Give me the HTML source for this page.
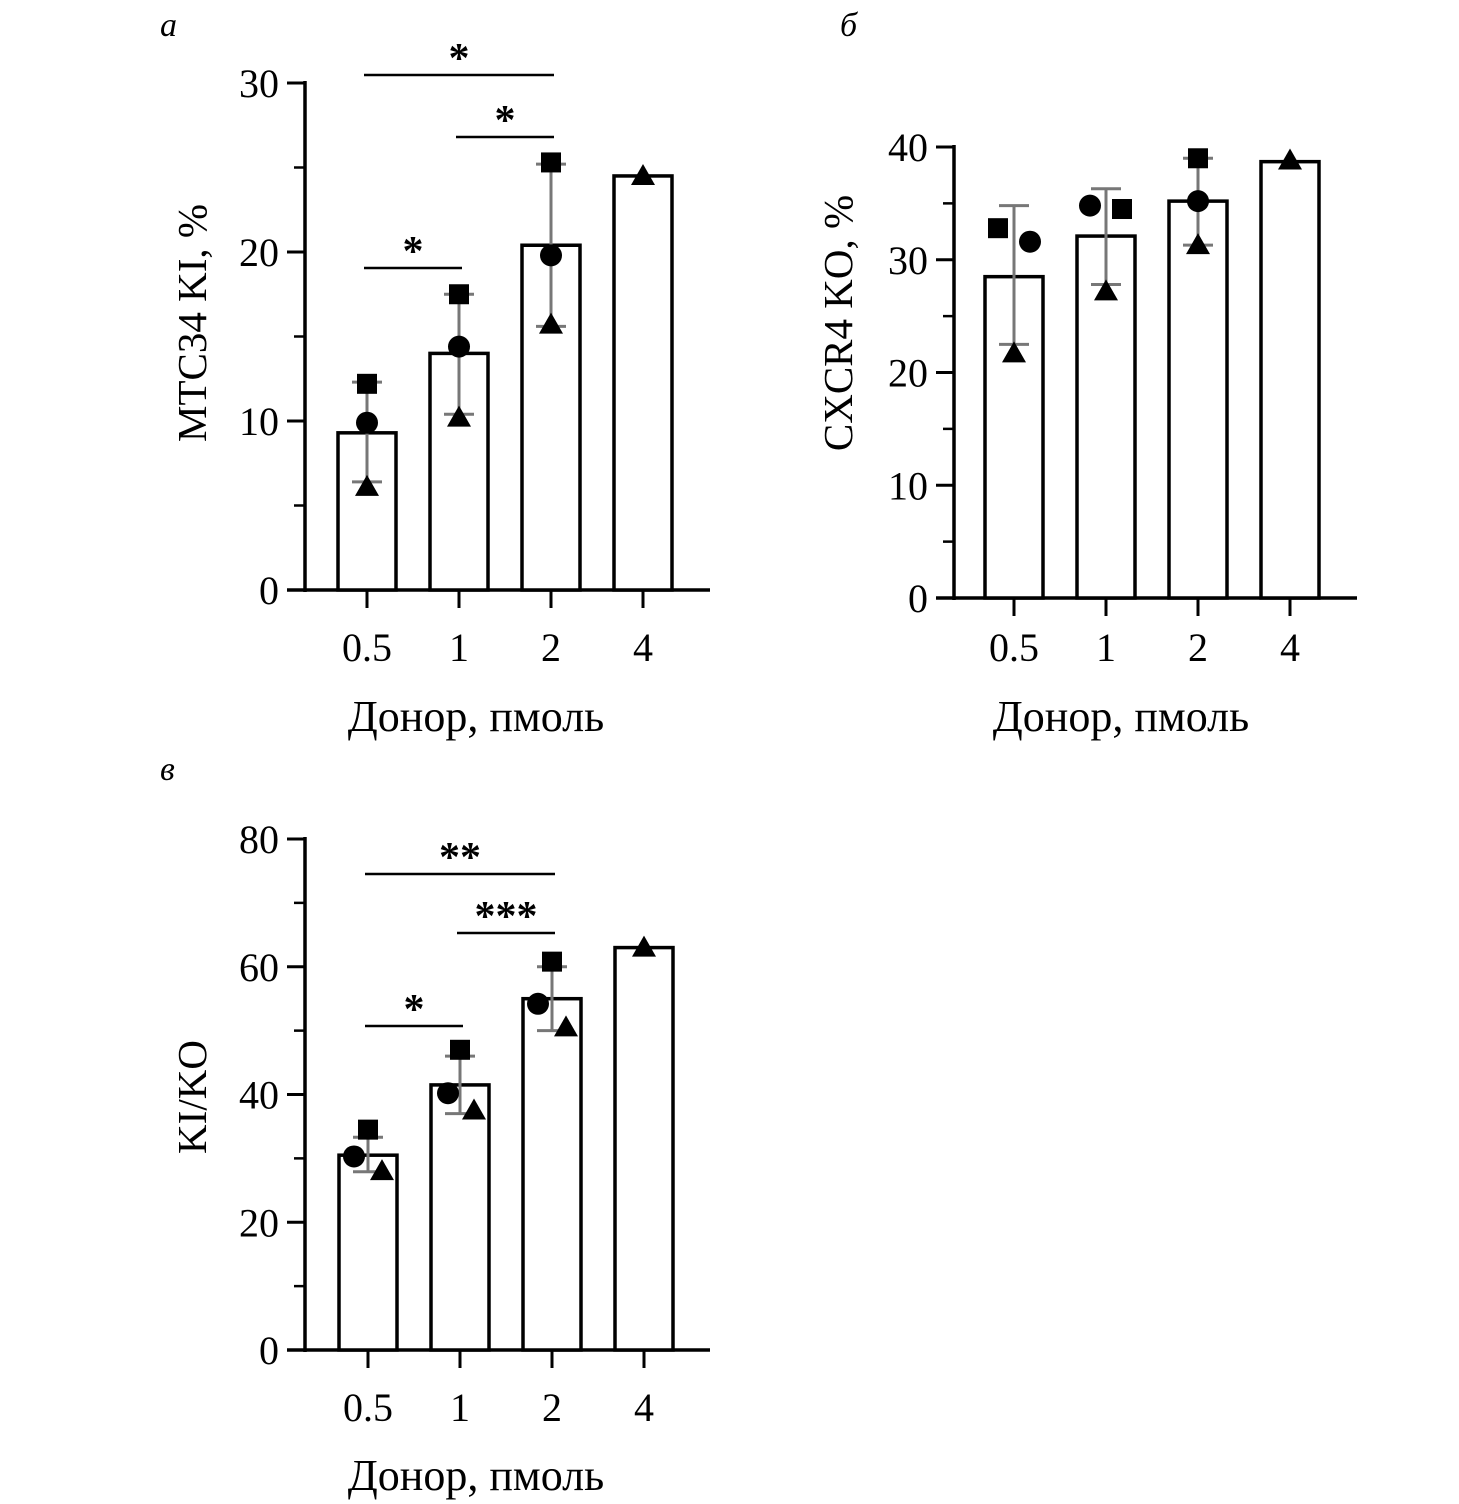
<!DOCTYPE html>
<html><head><meta charset="utf-8"><style>
html,body{margin:0;padding:0;background:#fff;}
svg{display:block;}
text{font-family:"Liberation Serif",serif;fill:#000;}
</style></head><body>
<svg id="fig" width="1459" height="1504" viewBox="0 0 1459 1504"></svg>
<script>
const categories = ["0.5","1","2","4"];
// Panel A: MTC34 KI, %
const aMeans = [9.3, 14.0, 20.4, 24.5];
const aSquare = [12.2, 17.5, 25.3, null];
const aCircle = [9.9, 14.4, 19.8, null];
const aTriangle = [6.1, 10.2, 15.7, 24.5];
const aErrLow = [6.4, 10.4, 15.6, null];
const aErrHigh = [12.3, 17.5, 25.2, null];
const aTicks = [0, 10, 20, 30];
// Panel B: CXCR4 KO, %
const bMeans = [28.5, 32.1, 35.2, 38.7];
const bSquare = [32.8, 34.5, 39.0, null];
const bCircle = [31.6, 34.8, 35.2, null];
const bTriangle = [21.7, 27.2, 31.3, 38.8];
const bErrLow = [22.5, 27.8, 31.3, null];
const bErrHigh = [34.8, 36.3, 39.0, null];
const bTicks = [0, 10, 20, 30, 40];
// Panel C: KI/KO
const cMeans = [30.5, 41.5, 55.0, 63.0];
const cSquare = [34.5, 47.0, 60.8, null];
const cCircle = [30.3, 40.2, 54.2, null];
const cTriangle = [28.0, 37.5, 50.5, 63.0];
const cErrLow = [27.9, 37.0, 50.0, null];
const cErrHigh = [33.3, 46.0, 60.0, null];
const cTicks = [0, 20, 40, 60, 80];

const NS = "http://www.w3.org/2000/svg";
const svg = document.getElementById("fig");
function mk(tag, attrs, parent, txt){
  const e = document.createElementNS(NS, tag);
  for (const k in attrs) e.setAttribute(k, attrs[k]);
  if (txt !== undefined) e.textContent = txt;
  (parent || svg).appendChild(e);
  return e;
}

function panel(cfg){
  const g = mk("g", {});
  
  
  const y = v => cfg.y0 - (v - 0) / cfg.max * (cfg.y0 - cfg.yTop);
  const x = i => cfg.x0 + i * cfg.step;
  const L = mk("text", {x: cfg.letterX, y: cfg.letterY, "font-size": 34, "font-style": "italic"}, g, cfg.letter);
  
  
  const ax = mk("line", {x1: cfg.ax, y1: y(cfg.max) - 2, x2: cfg.ax, y2: cfg.y0 + 2, stroke: "#000", "stroke-width": 3.5}, g);
  
  
  const xa = mk("line", {x1: cfg.ax - 18, y1: cfg.y0, x2: cfg.xEnd, y2: cfg.y0, stroke: "#000", "stroke-width": 3.5}, g);
  
  
  cfg.ticks.forEach(t => {
    const tl = mk("line", {x1: cfg.ax - 18, y1: y(t), x2: cfg.ax, y2: y(t), stroke: "#000", "stroke-width": 3}, g);
    
    
    const lb = mk("text", {x: cfg.ax - 26, y: y(t) + 14, "font-size": 40, "text-anchor": "end"}, g, String(t));
    
    
  });
  for (let i = 0; i < cfg.ticks.length - 1; i++) {
    const m = (cfg.ticks[i] + cfg.ticks[i+1]) / 2;
    const ml = mk("line", {x1: cfg.ax - 11, y1: y(m), x2: cfg.ax, y2: y(m), stroke: "#000", "stroke-width": 2.5}, g);
    
    
  }
  const yt = mk("text", {x: 0, y: 0, "font-size": 41, "text-anchor": "middle", transform: `translate(${cfg.ytX},${cfg.ytY}) rotate(-90)`}, g, cfg.ytitle);
  
  
  categories.forEach((c, i) => {
    const cx = x(i);
    const b = mk("rect", {x: cx - cfg.bw/2, y: y(cfg.means[i]), width: cfg.bw, height: cfg.y0 - y(cfg.means[i]), fill: "#fff", stroke: "#000", "stroke-width": 3.5}, g);
    
    
    const tk = mk("line", {x1: cx, y1: cfg.y0, x2: cx, y2: cfg.y0 + 18, stroke: "#000", "stroke-width": 3}, g);
    
    
    const xl = mk("text", {x: cx, y: cfg.xlY, "font-size": 40, "text-anchor": "middle"}, g, c);
    
    
    if (cfg.lo[i] !== null) {
      const e1 = mk("line", {x1: cx, y1: y(cfg.lo[i]), x2: cx, y2: y(cfg.hi[i]), stroke: "#777", "stroke-width": 3}, g);
      
      
      [cfg.lo[i], cfg.hi[i]].forEach(v => {
        const cap = mk("line", {x1: cx - 15, y1: y(v), x2: cx + 15, y2: y(v), stroke: "#777", "stroke-width": 3}, g);
        
        
      });
    }
    const off = cfg.offs[i];
    if (cfg.sq[i] !== null) {
      const s = mk("rect", {x: cx + off[0] - 10, y: y(cfg.sq[i]) - 10, width: 20, height: 20, fill: "#000"}, g);
      
      
    }
    if (cfg.ci[i] !== null) {
      const ci = mk("circle", {cx: cx + off[1], cy: y(cfg.ci[i]), r: 11, fill: "#000"}, g);
      
      
    }
    if (cfg.tr[i] !== null) {
      const tx = cx + off[2], ty = y(cfg.tr[i]);
      const tr = mk("polygon", {points: `${tx},${ty-12} ${tx-12},${ty+9} ${tx+12},${ty+9}`, fill: "#000"}, g);
      
      
    }
  });
  const xt = mk("text", {x: cfg.xtX, y: cfg.xtY, "font-size": 44, "text-anchor": "middle"}, g, "Донор, пмоль");
  
  
  (cfg.sig || []).forEach(s => {
    const l = mk("line", {x1: x(s[0]) - 3, y1: s[2], x2: x(s[1]) + 3, y2: s[2], stroke: "#000", "stroke-width": 2.5}, g);
    
    
    const t = mk("text", {x: (x(s[0]) + x(s[1])) / 2, y: s[2] - 3, "font-size": 42, "text-anchor": "middle", "font-family": "Liberation Sans, sans-serif", "font-weight": "bold"}, g, s[3]);
    
    
  });
}

panel({name: "panel-a", letter: "а", letterX: 160, letterY: 36, ax: 305, y0: 590, yTop: 83, max: 30, ticks: aTicks,
  x0: 367, step: 92, bw: 58, xEnd: 710, means: aMeans, sq: aSquare, ci: aCircle, tr: aTriangle, lo: aErrLow, hi: aErrHigh,
  offs: [[0,0,0],[0,0,0],[0,0,0],[0,0,0]], ytitle: "MTC34 KI, %", ytX: 206, ytY: 323,
  xlY: 661, xtX: 476, xtY: 731,
  sig: [[0,2,75,"*"],[1,2,137,"*"],[0,1,268,"*"]]});
panel({name: "panel-b", letter: "б", letterX: 840, letterY: 36, ax: 954, y0: 598, yTop: 147, max: 40, ticks: bTicks,
  x0: 1014, step: 92, bw: 58, xEnd: 1357, means: bMeans, sq: bSquare, ci: bCircle, tr: bTriangle, lo: bErrLow, hi: bErrHigh,
  offs: [[-16,16,0],[16,-16,0],[0,0,0],[0,0,0]], ytitle: "CXCR4 KO, %", ytX: 852, ytY: 323,
  xlY: 661, xtX: 1121, xtY: 731, sig: []});
panel({name: "panel-c", letter: "в", letterX: 160, letterY: 780, ax: 305, y0: 1350, yTop: 839, max: 80, ticks: cTicks,
  x0: 368, step: 92, bw: 58, xEnd: 710, means: cMeans, sq: cSquare, ci: cCircle, tr: cTriangle, lo: cErrLow, hi: cErrHigh,
  offs: [[0,-14,14],[0,-12,14],[0,-14,14],[0,0,0]], ytitle: "KI/KO", ytX: 206, ytY: 1097,
  xlY: 1421, xtX: 476, xtY: 1490,
  sig: [[0,2,874,"**"],[1,2,933,"***"],[0,1,1026,"*"]]});
</script>
</body></html>
